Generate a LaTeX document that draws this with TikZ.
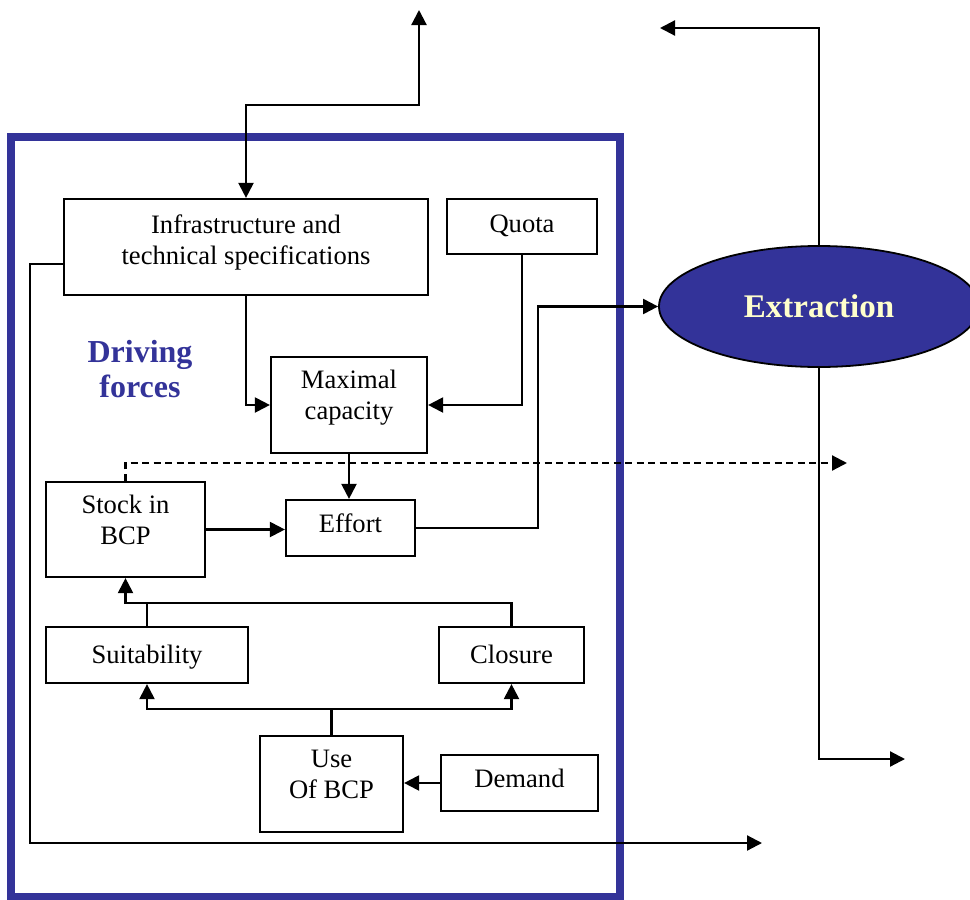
\documentclass[tikz,border=0pt]{standalone}
\usepackage{fontspec}
\setmainfont{Liberation Serif}
\usetikzlibrary{arrows.meta,shapes.geometric}
\definecolor{frameblue}{RGB}{51,51,153}
\definecolor{cream}{RGB}{255,255,204}
\tikzset{
  box/.style={draw=black, line width=2.2pt, fill=white, inner sep=0pt},
  txt/.style={align=center, inner sep=0pt, font=\fontsize{26.6}{31}\selectfont},
  conn/.style={draw=black, line width=2.2pt},
  tip/.tip={Triangle[length=15pt,width=15pt]},
  arr/.style={conn, -tip},
  darr/.style={conn, tip-tip},
  extr/.style={ellipse, draw=black, line width=1.8pt, fill=frameblue, inner sep=0pt,
    minimum width=320pt, minimum height=121pt, text=cream,
    font=\fontsize{33}{38}\selectfont\bfseries},
}
\begin{document}
\begin{tikzpicture}[x=1pt, y=-1pt]
\useasboundingbox (0,0) rectangle (970,900);

% driving-forces frame
\draw[frameblue, line width=8pt] (11,137) rectangle (620,897);
\node[txt, text=frameblue, font=\fontsize{32}{35}\selectfont\bfseries] (drv) at (140,369) {Driving\\forces};

% boxes
\node[box, minimum width=364pt, minimum height=96pt] (infra) at (246,247) {};
\node[txt] (infral) at (246,242) {Infrastructure and\\technical specifications};
\node[box, minimum width=150pt, minimum height=55pt] (quota) at (522,226.5) {};
\node[txt] (quotal) at (522,226) {Quota};
\node[box, minimum width=156pt, minimum height=96pt] (max) at (349,405) {};
\node[txt] (maxl) at (349,398) {Maximal\\capacity};
\node[box, minimum width=159pt, minimum height=95pt] (stock) at (125.5,529.5) {};
\node[txt] (stockl) at (125.5,520) {Stock in\\BCP};
\node[box, minimum width=129pt, minimum height=56pt] (effort) at (350.5,528) {};
\node[txt] (effortl) at (350.5,523) {Effort};
\node[box, minimum width=202pt, minimum height=56pt] (suit) at (147,655) {};
\node[txt] (suitl) at (147,657) {Suitability};
\node[box, minimum width=145pt, minimum height=56pt] (closure) at (511.5,655) {};
\node[txt] (closurel) at (511.5,654) {Closure};
\node[box, minimum width=143pt, minimum height=96pt] (use) at (331.5,784) {};
\node[txt] (usel) at (331.5,774) {Use\\Of BCP};
\node[box, minimum width=157pt, minimum height=56pt] (demand) at (519.5,783) {};
\node[txt] (demandl) at (519.5,778) {Demand};

% extraction
\node[extr] (extr) at (819,306.5) {Extraction};

% free ends
\coordinate (topend) at (419,10);
\coordinate (leftend) at (762,843);
\coordinate (dashend) at (847,463);
\coordinate (rtop) at (660,28);
\coordinate (rbot) at (905,759);
\coordinate (junc) at (147,603);
\coordinate (usej) at (331.5,709);

% connectors
\draw[darr] (topend) -- (419,105) -| (infra.north);
\draw[arr] ([yshift=-17pt]infra.west) -- (30,264) -- (30,843) -- (leftend);
\draw[arr] (infra.south) |- (max.west);
\draw[arr] (quota.south) |- (max.east);
\draw[arr] (max.south) -- (max.south |- effort.north);
\draw[arr] (stock.east) -- (stock.east -| effort.west);
\draw[arr, dash pattern=on 7pt off 4.5pt] (stock.north) |- (dashend);
\draw[arr] (effort.east) -- ++(122,0) |- (extr.west);
\draw[arr] (extr.north) |- (rtop);
\draw[arr] (extr.south) |- (rbot);
\draw[arr] (suit.north) -- (junc) -| (stock.south);
\draw[conn] (closure.north) |- (junc);
\draw[conn] (use.north) -- (usej);
\draw[arr] (usej) -| (suit.south);
\draw[arr] (usej) -| (closure.south);
\draw[arr] (demand.west) -- (demand.west -| use.east);
\end{tikzpicture}
\end{document}
